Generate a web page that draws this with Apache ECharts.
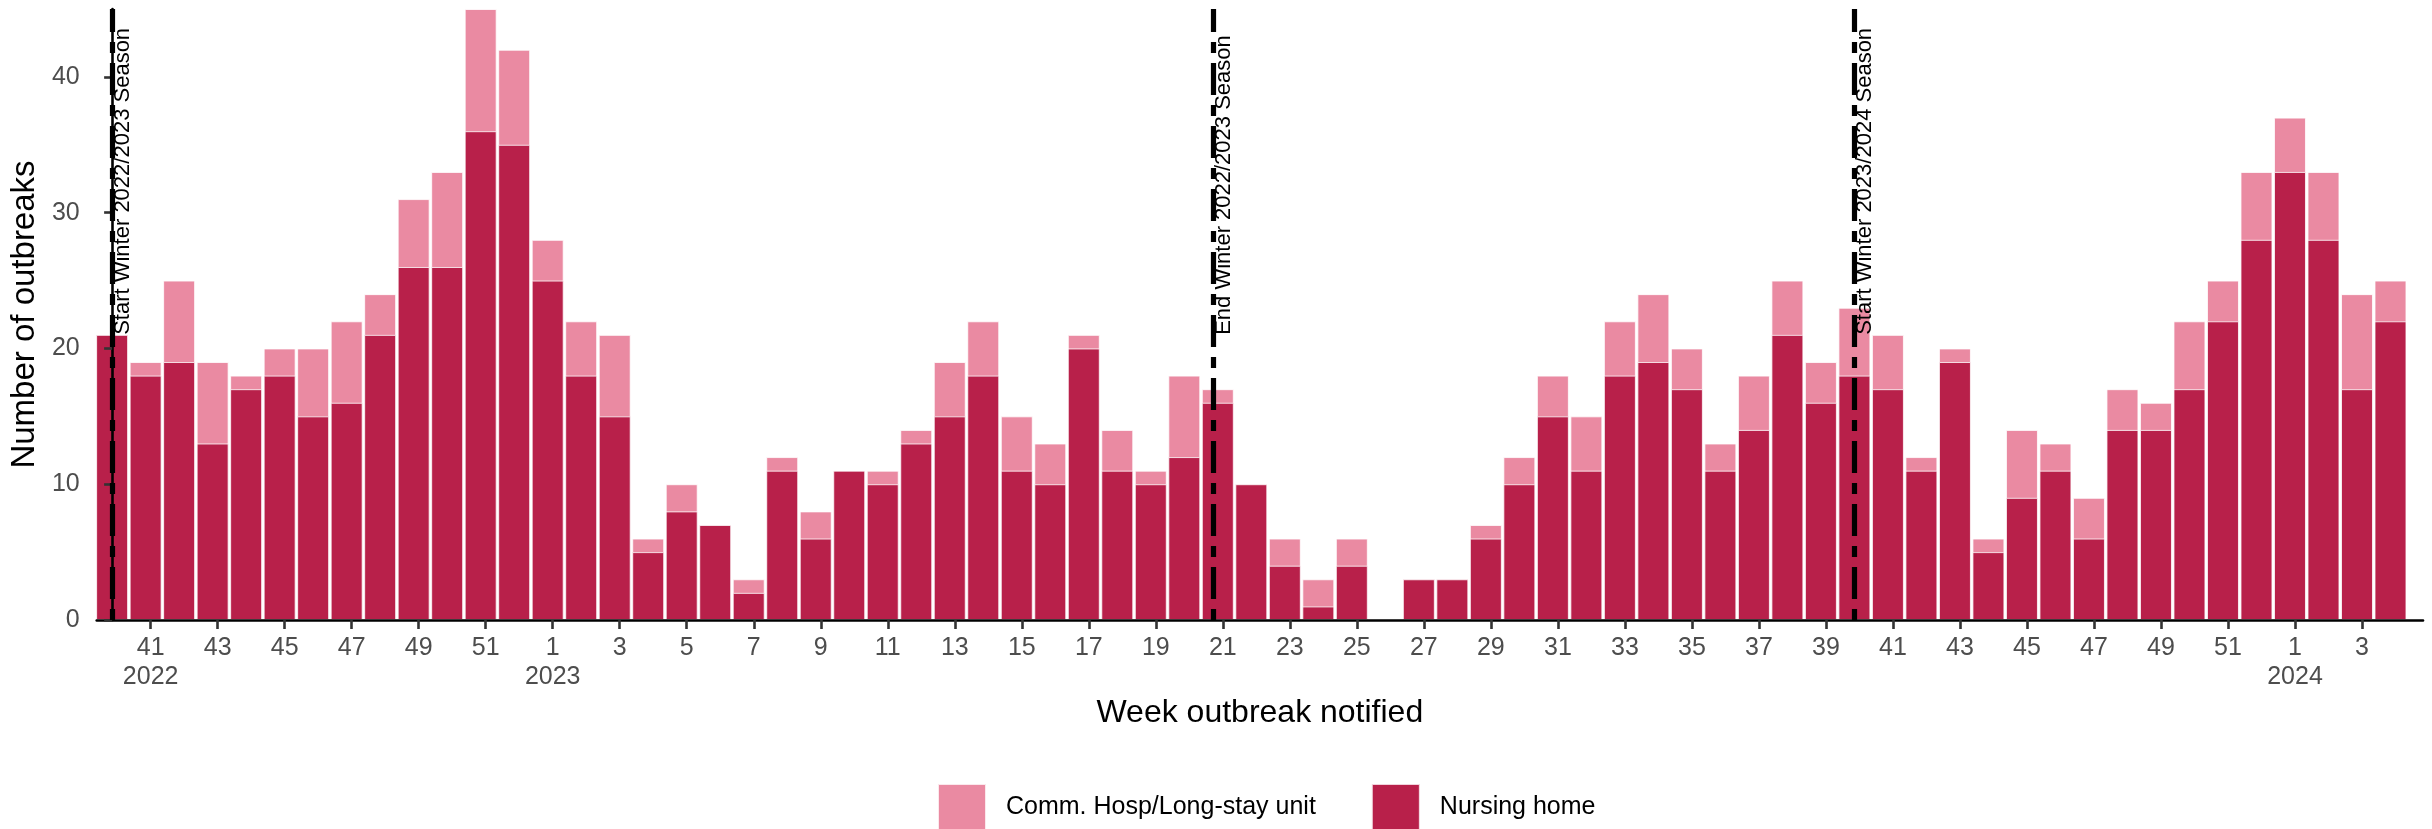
<!DOCTYPE html>
<html>
<head>
<meta charset="utf-8">
<script src="https://cdn.jsdelivr.net/npm/echarts@6/dist/echarts.min.js"></script>
<style>
html,body{margin:0;padding:0;background:#fff;}
#chart{width:2432px;height:829px;}
</style>
</head>
<body>
<div id="chart"></div>
<script>
// ISO week of notification (year-week)
const weeks = [
  '2022-40','2022-41','2022-42','2022-43','2022-44','2022-45','2022-46','2022-47','2022-48','2022-49','2022-50','2022-51','2022-52',
  '2023-1','2023-2','2023-3','2023-4','2023-5','2023-6','2023-7','2023-8','2023-9','2023-10',
  '2023-11','2023-12','2023-13','2023-14','2023-15','2023-16','2023-17','2023-18','2023-19','2023-20',
  '2023-21','2023-22','2023-23','2023-24','2023-25','2023-26','2023-27','2023-28','2023-29','2023-30',
  '2023-31','2023-32','2023-33','2023-34','2023-35','2023-36','2023-37','2023-38','2023-39','2023-40',
  '2023-41','2023-42','2023-43','2023-44','2023-45','2023-46','2023-47','2023-48','2023-49','2023-50',
  '2023-51','2023-52',
  '2024-1','2024-2','2024-3','2024-4'
];
const nursingHome = [
  21,18,19,13,17,18,15,16,21,26,26,36,35,
  25,18,15,5,8,7,2,11,6,11,
  10,13,15,18,11,10,20,11,10,12,
  16,10,4,1,4,0,3,3,6,10,
  15,11,18,19,17,11,14,21,16,18,
  17,11,19,5,9,11,6,14,14,17,
  22,28,
  33,28,17,22
];
const commHosp = [
  0,1,6,6,1,2,5,6,3,5,7,9,7,
  3,4,6,1,2,0,1,1,2,0,
  1,1,4,4,4,3,1,3,1,6,
  1,0,2,2,2,0,0,0,1,2,
  3,4,4,5,3,2,4,4,3,5,
  4,1,1,1,5,2,3,3,2,5,
  3,5,
  4,5,7,3
];
const seriesNames = ['Comm. Hosp/Long-stay unit', 'Nursing home'];
// season boundary lines, in weeks from 2022-40 (end line sits slightly before week 21's bar centre)
const seasonLineWeeks = [0, 32.85, 52];
const seasonLabels = ['Start Winter 2022/2023 Season', 'End Winter 2022/2023 Season', 'Start Winter 2023/2024 Season'];
const yTicks = [0, 10, 20, 30, 40];

const FONT = '"Liberation Sans", Arial, sans-serif';
const colNursing = '#B8204A';
const colComm = '#EA8AA2';
const TICK_SHIFT = 0.15;

// tick positions at odd week indices (41, 43, ...)
const tickVals = [];
for (let i = 1; i < weeks.length; i += 2) tickVals.push(i + TICK_SHIFT);
function tickLabel(v) {
  const i = Math.round(v - TICK_SHIFT);
  const parts = weeks[i].split('-');
  let firstOfYear = true;
  for (let j = 1; j < i; j += 2) {
    if (weeks[j].split('-')[0] === parts[0]) { firstOfYear = false; break; }
  }
  return firstOfYear ? parts[1] + '\n' + parts[0] : parts[1];
}

// stacked: light segment sits on top of the nursing-home segment
const totalData = nursingHome.map((v, i) => {
  const t = v + commHosp[i];
  return [i, t === 0 ? null : t];
});
const nursingData = nursingHome.map((v, i) => [i, v === 0 ? null : v]);

const barStyle = {borderColor: 'rgba(255,255,255,0.8)', borderWidth: 1};

const chart = echarts.init(document.getElementById('chart'), null, {renderer: 'canvas'});
chart.setOption({
  animation: false,
  backgroundColor: '#fff',
  textStyle: {fontFamily: FONT},
  grid: {left: 93, right: 9, top: 9, bottom: 209, containLabel: false},
  legend: {
    data: seriesNames,
    left: 937, top: 783,
    itemWidth: 48, itemHeight: 46, itemGap: 55, padding: 0,
    icon: 'rect',
    textStyle: {fontSize: 25, color: '#000', fontFamily: FONT, padding: [0, 0, 0, 15]}
  },
  xAxis: {
    type: 'value',
    min: -0.46, max: 68.97,
    z: 5,
    name: 'Week outbreak notified',
    nameLocation: 'middle',
    nameGap: 75,
    nameTextStyle: {fontSize: 32, color: '#000', fontFamily: FONT},
    axisLine: {show: true, lineStyle: {color: '#000', width: 2.6}},
    axisTick: {show: true, length: 9, lineStyle: {color: '#333', width: 2.6}, customValues: tickVals},
    axisLabel: {
      show: true, customValues: tickVals, formatter: tickLabel,
      fontSize: 25, lineHeight: 29, color: '#4D4D4D', margin: 14, fontFamily: FONT
    },
    splitLine: {show: false}
  },
  yAxis: {
    type: 'value',
    min: 0, max: 45, interval: 10,
    z: 5,
    name: 'Number of outbreaks',
    nameLocation: 'middle',
    nameGap: 52,
    nameTextStyle: {fontSize: 33, color: '#000', fontFamily: FONT},
    axisLine: {show: true, lineStyle: {color: '#000', width: 2.6}},
    axisTick: {show: true, length: 8, lineStyle: {color: '#333', width: 2.6}, customValues: yTicks},
    axisLabel: {fontSize: 25, color: '#4D4D4D', margin: 17, fontFamily: FONT, customValues: yTicks},
    splitLine: {show: false}
  },
  series: [
    {
      name: seriesNames[0],
      type: 'bar',
      barWidth: 32,
      barGap: '-100%',
      data: totalData,
      itemStyle: Object.assign({color: colComm}, barStyle)
    },
    {
      name: seriesNames[1],
      type: 'bar',
      barWidth: 32,
      barGap: '-100%',
      data: nursingData,
      itemStyle: Object.assign({color: colNursing}, barStyle),
      markLine: {
        silent: true,
        symbol: ['none', 'none'],
        z: 10,
        label: {show: false},
        lineStyle: {color: '#000', width: 5.2, type: [11, 10, 32, 10], cap: 'butt'},
        data: seasonLineWeeks.map(x => [{coord: [x, 0]}, {coord: [x, 45]}])
      },
      markPoint: {
        silent: true,
        symbol: 'rect',
        symbolSize: 0,
        z: 11,
        label: {
          show: true, position: 'inside', rotate: 90,
          align: 'left', verticalAlign: 'top',
          fontSize: 22, color: '#000', fontFamily: FONT,
          formatter: p => p.name
        },
        data: seasonLineWeeks.map((x, k) => ({coord: [x, 21], name: seasonLabels[k], value: 0}))
      }
    }
  ]
});
</script>
</body>
</html>
